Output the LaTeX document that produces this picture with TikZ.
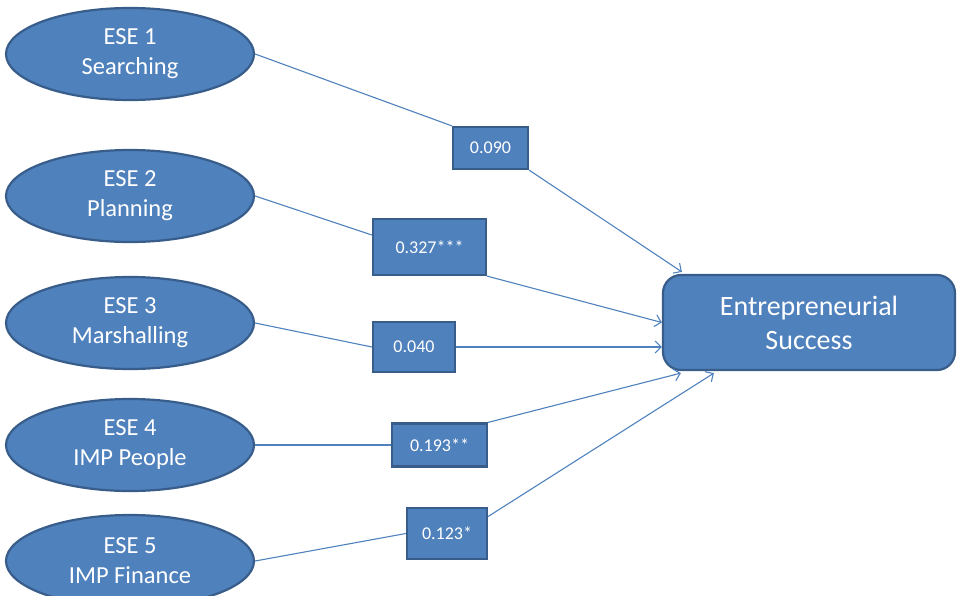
\documentclass[tikz,border=0pt]{standalone}
\usepackage{fontspec}
\setmainfont{Carlito}
\usetikzlibrary{shapes.geometric,arrows.meta,calc}
\definecolor{ofill}{HTML}{4F81BD}
\definecolor{oline}{HTML}{385D8A}
\definecolor{conn}{HTML}{4F81BD}
\begin{document}
\begin{tikzpicture}[x=1pt,y=-1pt,
  esebox/.style={ellipse,draw=oline,fill=ofill,line width=2.2pt,minimum width=248pt,minimum height=92pt,inner sep=0pt,text=white,font=\fontsize{24.5}{30}\selectfont,align=center},
  coef/.style={rectangle,draw=oline,fill=ofill,line width=2.2pt,inner sep=0pt,text=white,font=\fontsize{18}{21}\selectfont},
  target/.style={rectangle,rounded corners=18pt,draw=oline,fill=ofill,line width=2.2pt,minimum width=292pt,minimum height=95pt,inner sep=0pt,text=white,font=\fontsize{28}{34}\selectfont,align=center},
  link/.style={draw=conn,line width=1.1pt},
  arr/.style={link,-{Straight Barb[length=6pt,width=12pt]}}]
\useasboundingbox (0,0) rectangle (958,595);
\clip (0,0) rectangle (958,595);
% ellipses
\node[esebox] (e1) at (130,54) {ESE 1\\Searching};
\node[esebox] (e2) at (130,196) {ESE 2\\Planning};
\node[esebox] (e3) at (130,323) {ESE 3\\Marshalling};
\node[esebox] (e4) at (130,445) {ESE 4\\IMP People};
\node[esebox] (e5) at (130,561) {ESE 5\\IMP Finance};
% target
\node[target] (es) at (809,322.5) {Entrepreneurial\\Success};
% coefficient boxes
\node[coef,minimum width=75pt,minimum height=42pt] (b1) at (490.5,148) {0.090};
\node[coef,minimum width=113pt,minimum height=56pt] (b2) at (429.5,247) {0.327***};
\node[coef,minimum width=82pt,minimum height=50pt] (b3) at (414,347) {0.040};
\node[coef,minimum width=95pt,minimum height=43pt] (b4) at (439.5,445) {0.193**};
\node[coef,minimum width=80pt,minimum height=51pt] (b5) at (447,533.5) {0.123*};
% connectors
\draw[link] (e1.east) -- (b1.north west);
\draw[arr] (b1.south east) -- ($(es.north west)+(20,-2)$);
\draw[link] (e2.east) -- ($(b2.west)+(0,-12)$);
\draw[arr] (b2.south east) -- (es.west);
\draw[link] (e3.east) -- (b3.west);
\draw[arr] (b3.east) -- ($(es.west)+(0,24.5)$);
\draw[link] (e4.east) -- (b4.west);
\draw[arr] (b4.north east) -- ($(es.south west)+(19,2)$);
\draw[link] (e5.east) -- (b5.west);
\draw[arr] ($(b5.east)+(0,-17)$) -- ($(es.south west)+(52,2)$);
\end{tikzpicture}
\end{document}
